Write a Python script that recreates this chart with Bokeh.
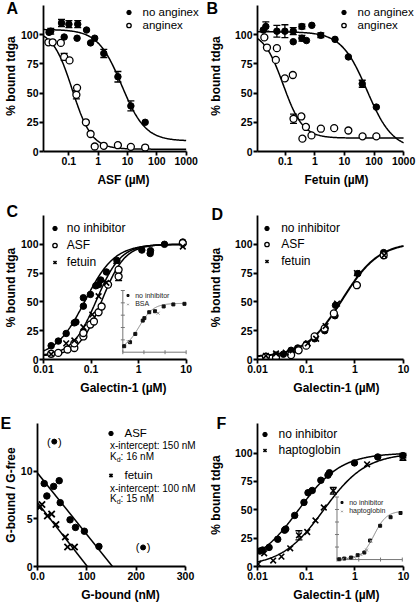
import numpy as np
from bokeh.plotting import figure
from bokeh.models import (Range1d, FixedTicker, Legend, LegendItem, Label, Title,
                          Whisker, TeeHead, ColumnDataSource, LogScale)
from bokeh.layouts import column, row
from bokeh.embed import file_html
from bokeh.resources import INLINE
from bokeh.core.properties import value

FONT = "Liberation Sans"

# ---------------- shared axes ----------------
pct_range = (0, 125)
pct_ticks = [0, 25, 50, 75, 100]
pct_labels = ["0", "25", "50", "75", "100"]
gal_range = (0.01, 10)
gal_ticks = [0.01, 0.1, 1, 10]
gal_labels = ["0.01", "0.1", "1", "10"]

# ---------------- Panel A (ASF) ----------------
a_range = (0.0136, 1000)
a_ticks = [0.1, 1, 10, 100, 1000]
a_labels = ["0.1", "1", "10", "100", "1000"]
a_noang_x = [0.021, 0.024, 0.056, 0.069, 0.10, 0.19, 0.20, 0.40, 0.55, 0.76, 1.55, 4.7, 13, 40]
a_noang_y = [102, 103, 110, 98, 109, 97, 109, 104, 93, 97, 84, 64, 39, 25]
a_noang_err = [0, 2.5, 3, 0, 3, 0, 3, 0, 0, 0, 3.5, 4.5, 4.3, 0]
a_ang_x = [0.020, 0.028, 0.053, 0.069, 0.105, 0.18, 0.19, 0.38, 0.55, 0.76, 1.55, 4.7, 13, 40]
a_ang_y = [93.5, 93.5, 93, 81, 78, 48.5, 54.5, 25, 15, 4.3, 4.9, 5.4, 4, 3.4]
a_ang_err = [0, 0, 0, 3, 0, 3.5, 0, 0, 0, 0, 0, 0, 0, 0]
a_noang_fit = [104.5, 9, 6.3, 1.07]      # start, end, midpoint, slope
a_ang_fit = [104, 2, 0.13, 1.3]

# ---------------- Panel B (Fetuin) ----------------
b_range = (0.0115, 1000)
b_noang_x = [0.018, 0.022, 0.052, 0.097, 0.186, 0.186, 0.365, 0.365, 0.52, 0.79, 1.59, 4.8, 13.6, 40, 120]
b_noang_y = [104, 107, 103, 103, 103, 94, 107, 97, 95, 108, 99.5, 96, 81, 58, 38]
b_noang_err = [0, 4, 5, 5.5, 3, 0, 2, 2.5, 0, 0, 2, 0, 0, 3, 0]
b_ang_x = [0.0196, 0.024, 0.048, 0.052, 0.097, 0.18, 0.19, 0.35, 0.38, 0.50, 0.77, 1.6, 4.5, 13.6, 41, 120]
b_ang_y = [97.7, 89, 78.4, 88.5, 62.6, 65.5, 28, 30, 11, 21, 13.8, 19.5, 20, 18, 13, 13]
b_ang_err = [0, 0, 0, 0, 0, 0, 4, 0, 0, 0, 0, 0, 0, 0, 0, 0]
b_noang_fit = [102.5, 2, 58, 1.0]
b_ang_fit = [103, 11.5, 0.085, 1.3]

# ---------------- Panel C ----------------
c_none_x = [0.0145, 0.0205, 0.030, 0.0445, 0.048, 0.069, 0.069, 0.097, 0.126, 0.144, 0.16, 0.21, 0.35, 1.17, 1.75, 1.78, 3.5, 8.5]
c_none_y = [12, 16, 22.6, 31.8, 32.5, 53.6, 46.3, 56.5, 64, 65, 69, 76, 86, 95, 92, 94.5, 100, 102]
c_asf_x = [0.0145, 0.0205, 0.032, 0.0445, 0.0445, 0.069, 0.069, 0.097, 0.115, 0.144, 0.167, 0.228, 0.38, 0.38, 8.5]
c_asf_y = [5, 5.7, 8.7, 10, 14, 20, 23, 30.4, 33, 41, 46, 65, 78, 72, 101]
c_asf_err = [0, 0, 0, 0, 0, 0, 0, 0, 0, 0, 0, 0, 0, 3.5, 0]
c_fet_x = [0.0145, 0.030, 0.0445, 0.069, 0.106, 0.144, 0.21, 0.34, 8.5]
c_fet_y = [4.6, 14, 16.5, 28, 39, 55, 66.6, 85.5, 98]
c_none_fit = [2, 100, 0.075, 1.4]
c_asf_fit = [3, 100, 0.17, 1.8]
c_fet_fit = [3, 100, 0.13, 1.7]
# inset of C
ci_none_x = [0.0116, 0.022, 0.039, 0.088, 0.105, 0.178, 0.335, 0.86, 2.47, 8.3]
ci_none_y = [12.2, 20.3, 37, 64, 69, 81, 83, 92.7, 96.8, 98]
ci_bsa_x = [0.018, 0.47]
ci_bsa_y = [21.5, 79]
ci_fit = [5, 99, 0.06, 1.3]

# ---------------- Panel D ----------------
d_none_x = [0.0149, 0.024, 0.034, 0.049, 0.067, 0.10, 0.149, 0.24, 0.39, 0.40, 1.15, 3.9]
d_none_y = [2.9, 3.8, 4.6, 8, 10, 13.3, 18, 25, 38, 47, 74.6, 92.8]
d_asf_x = [0.0149, 0.024, 0.049, 0.07, 0.10, 0.149, 0.24, 0.37, 1.1, 3.9]
d_asf_y = [2.3, 1.7, 3.8, 8, 12, 20, 27, 40, 64.5, 90.5]
d_fet_x = [0.0149, 0.024, 0.038, 0.053, 0.108, 0.16, 0.25, 0.43, 1.1, 4.0]
d_fet_y = [3.2, 5.2, 6, 8, 14, 18, 29, 48.5, 75, 90.5]
d_fit = [2, 102, 0.55, 1.15]

# ---------------- Panel E (Scatchard) ----------------
e_xrange = (0, 300)
e_yrange = (0, 15)
e_xticks = [0, 100, 200, 300]
e_xlabels = ["0.0", "100", "200", "300"]
e_yticks = [0, 5, 10]
e_ylabels = ["0", "5", "10"]
e_asf_x = [13.6, 19, 32.7, 44, 46, 66, 77, 95, 124.5]
e_asf_y = [8.7, 7.4, 8.4, 9.0, 6.7, 4.9, 4.1, 3.7, 2.1]
e_out_x = [34, 214]
e_out_y = [13.1, 2.0]
e_fet_x = [4, 9, 20, 28.6, 37.4, 56.5, 61, 75]
e_fet_y = [6.2, 6.5, 5.3, 5.5, 4.4, 3.1, 2.05, 2.05]
e_asf_line_x = [0, 152]
e_asf_line_y = [9.8, 0]
e_fet_line_x = [0, 101]
e_fet_line_y = [6.7, 0]
e_asf_xint = "x-intercept: 150 nM"
e_asf_kd = ": 16 nM"
e_fet_xint = "x-intercept: 100 nM"
e_fet_kd = ": 15 nM"

# ---------------- Panel F ----------------
f_yrange = (0, 126)
f_none_x = [0.0112, 0.0127, 0.0173, 0.026, 0.036, 0.038, 0.058, 0.09, 0.109, 0.133, 0.2, 0.28, 0.30, 0.98, 2.95, 9.7]
f_none_y = [13.6, 14.5, 16.8, 24, 32, 33, 45, 56.5, 65, 67, 76, 80.5, 82.6, 91.3, 96.5, 97.7]
f_none_err = [0, 0, 0, 0, 0, 0, 0, 0, 0, 0, 0, 0, 0, 0, 0, 2]
f_hap_x = [0.0103, 0.0137, 0.021, 0.031, 0.047, 0.071, 0.105, 0.155, 0.23, 0.36, 1.78, 9.7]
f_hap_y = [2.3, 11.6, 5.2, 8.7, 16, 27.5, 30.4, 40.6, 52, 66.7, 90, 96]
f_hap_err = [0, 0, 0, 0, 0, 4, 0, 0, 0, 3, 0, 2.5]
f_none_fit = [0, 100, 0.07, 1.0]
f_hap_fit = [0, 100, 0.23, 1.0]
# inset of F
fi_none_x = [0.0127, 0.0215, 0.044, 0.089, 0.18, 0.33, 0.96, 2.9, 8.3]
fi_none_y = [0.6, 2, 4, 8.7, 14, 38, 67.5, 84.6, 93]
fi_hap_x = [0.018, 0.031, 0.062, 0.125, 0.23, 0.36]
fi_hap_y = [0.6, 2, 4.7, 10, 19, 37]
fi_fit = [0, 97, 0.5, 1.5]

inset_xr = (0.01, 10)
inset_yr = (0, 125)
inset_xticks = [0.01, 0.1, 1, 10]
inset_yticks = [25, 50, 75, 100, 125]

# ---------------- layout (pixels) ----------------
COL_W = [205, 211]
COL_BL = [37, 51]
COL_BR = [2, 1]
AXIS_W = [148, 147]          # length of the x axis inside the (wider) frame
ROW_H = [200, 200, 204]
ROW_BT = [0, 15, 23]
ROW_BB = [49, 41, 37]
ROW_AXTOP = [5, 0, 0]        # gap between frame top and top of y axis
XLAB_STANDOFF = [5, 5, 5]
YLAB_STANDOFF = [0, 9]


def fit_curve(fit, xr, n=200):
    start, end, mid, slope = fit
    xs = np.logspace(np.log10(xr[0]), np.log10(xr[1]), n)
    r = (xs / mid) ** slope
    return xs, start + (end - start) * r / (1 + r)


class Panel:
    pass


def panel(col, r, xr, xlog, xticks, xlabels, yr, yticks, ylabels, xlabel, ylabel):
    P = Panel()
    bl, br = COL_BL[col], COL_BR[col]
    fw = COL_W[col] - bl - br
    fh = ROW_H[r] - ROW_BT[r] - ROW_BB[r]
    aw = AXIS_W[col]
    axtop = ROW_AXTOP[r]
    ah = fh - axtop
    if xlog:
        L0, L1 = np.log10(xr[0]), np.log10(xr[1])
        xend = 10 ** (L1 + (fw - aw) * (L1 - L0) / aw)
    else:
        xend = xr[1] + (fw - aw) * (xr[1] - xr[0]) / aw
    yend = yr[1] + axtop * (yr[1] - yr[0]) / ah
    p = figure(width=COL_W[col], height=ROW_H[r], x_range=Range1d(xr[0], xend),
               y_range=Range1d(yr[0], yend),
               x_axis_type="log" if xlog else "linear", output_backend="svg",
               toolbar_location=None, title=None,
               min_border_left=bl, min_border_right=br,
               min_border_top=ROW_BT[r], min_border_bottom=ROW_BB[r])
    p.outline_line_color = None
    p.xgrid.visible = False
    p.ygrid.visible = False
    p.xaxis.axis_label = xlabel
    p.yaxis.axis_label = ylabel
    for ax in (p.xaxis[0], p.yaxis[0]):
        ax.axis_line_width = 1.8
        ax.axis_line_color = "black"
        ax.major_tick_line_width = 1.8
        ax.major_tick_line_color = "black"
        ax.major_tick_out = 4
        ax.major_tick_in = 0
        ax.minor_tick_line_color = None
        ax.major_label_text_font = FONT
        ax.major_label_text_font_style = "bold"
        ax.major_label_text_font_size = "10.5px"
        ax.major_label_text_color = "black"
        ax.major_label_standoff = 1
        ax.axis_label_text_font = FONT
        ax.axis_label_text_font_style = "bold"
        ax.axis_label_text_font_size = "12px"
        ax.axis_label_text_color = "black"
    p.xaxis[0].axis_label_standoff = XLAB_STANDOFF[r]
    p.yaxis[0].axis_label_standoff = YLAB_STANDOFF[col]
    p.xaxis[0].bounds = (xr[0], xr[1])
    p.yaxis[0].bounds = (yr[0], yr[1])
    p.xaxis[0].ticker = FixedTicker(ticks=xticks, minor_ticks=[])
    p.xaxis[0].major_label_overrides = dict(zip(xticks, xlabels))
    p.yaxis[0].ticker = FixedTicker(ticks=yticks, minor_ticks=[])
    p.yaxis[0].major_label_overrides = dict(zip(yticks, ylabels))
    P.p, P.fw, P.fh, P.aw, P.ah, P.axtop = p, fw, fh, aw, ah, axtop
    return P


def filled(p, x, y, size=6.5, **kw):
    return p.scatter(x, y, marker="circle", size=size, fill_color="black", line_color="black", **kw)


def opened(p, x, y):
    return p.scatter(x, y, marker="circle", size=7, fill_color="white", line_color="black", line_width=1.3)


def crosses(p, x, y, size=8, lw=1.6):
    return p.scatter(x, y, marker="x", size=size, line_color="black", line_width=lw)


def errbars(p, x, y, e):
    sel = [(xi, yi, ei) for xi, yi, ei in zip(x, y, e) if ei > 0]
    if not sel:
        return
    src = ColumnDataSource(dict(base=[s[0] for s in sel],
                                lower=[s[1] - s[2] for s in sel],
                                upper=[s[1] + s[2] for s in sel]))
    w = Whisker(source=src, base="base", lower="lower", upper="upper", dimension="height",
                line_width=1.3, line_color="black",
                upper_head=TeeHead(size=7, line_width=1.3, line_color="black"),
                lower_head=TeeHead(size=7, line_width=1.3, line_color="black"))
    p.add_layout(w)


def curve(p, fit, xr, **kw):
    xs, ys = fit_curve(fit, xr)
    args = dict(line_color="black", line_width=1.5)
    args.update(kw)
    return p.line(xs, ys, **args)


def legend_row(P, label, rend, cx, cy, gw, gh, standoff, size, color="black"):
    """one legend entry; (cx, cy) = marker centre in px from the axis top-left corner"""
    top = P.axtop + cy - gh / 2
    loc = (cx - gw / 2, P.fh - top - gh)
    lg = Legend(items=[LegendItem(label=label, renderers=[rend])], location=loc,
                glyph_width=gw, glyph_height=gh, spacing=0, padding=0, margin=0,
                label_standoff=standoff, label_height=6, label_width=6,
                label_text_font=FONT, label_text_font_size=size, label_text_color=color,
                label_text_baseline="middle",
                border_line_color=None, background_fill_alpha=0)
    P.p.add_layout(lg)


def letter(P, txt, offset, standoff):
    P.p.add_layout(Title(text=txt, align="left", vertical_align="bottom", offset=offset,
                         standoff=standoff, text_font=FONT, text_font_size="16px",
                         text_font_style="bold", text_color="black"), "above")


def inset(P, px0, px1, py_top, py_bot, none_x, none_y, other_x, other_y, fit, labels, leg_cx, leg_cy):
    p = P.p
    lo, hi = np.log10(inset_xr[0]), np.log10(inset_xr[1])
    per = (hi - lo) / (px1 - px0)
    p.extra_x_ranges = {"in": Range1d(10 ** (lo - px0 * per), 10 ** (hi + (P.fw - px1) * per))}
    p.extra_x_scales = {"in": LogScale()}
    top = P.axtop + py_top
    bot = P.axtop + py_bot
    yper = (inset_yr[1] - inset_yr[0]) / (bot - top)
    p.extra_y_ranges = {"in": Range1d(inset_yr[0] - (P.fh - bot) * yper, inset_yr[1] + top * yper)}
    kw = dict(x_range_name="in", y_range_name="in")
    p.segment(x0=[inset_xr[0], inset_xr[0]], y0=[inset_yr[0], inset_yr[0]],
              x1=[inset_xr[1], inset_xr[0]], y1=[inset_yr[0], inset_yr[1]],
              line_color="#777777", line_width=1, **kw)
    p.scatter(inset_xticks, [inset_yr[0]] * len(inset_xticks), marker="dash", angle=np.pi / 2,
              size=4, line_color="#777777", line_width=1, **kw)
    p.scatter([inset_xr[0]] * len(inset_yticks), inset_yticks, marker="dash",
              size=4, line_color="#777777", line_width=1, **kw)
    xs, ys = fit_curve(fit, inset_xr)
    p.line(xs, ys, line_color="#808080", line_width=1, **kw)
    r1 = p.scatter(none_x, none_y, marker="square", size=3, fill_color="#111111", line_color="#111111", **kw)
    r2 = p.scatter(other_x, other_y, marker="x", size=4, line_color="#8a8a8a", line_width=1, **kw)
    legend_row(P, labels[0], r1, leg_cx, leg_cy, 5, 8, 5, "7px", "#222222")
    legend_row(P, labels[1], r2, leg_cx, leg_cy + 8.7, 5, 8, 5, "7px", "#222222")


GW, GH = 11, 16

# ================= Panel A =================
A = panel(0, 0, a_range, True, a_ticks, a_labels, pct_range, pct_ticks, pct_labels,
          "ASF (\u00b5M)", "% bound tdga")
pA = A.p
curve(pA, a_noang_fit, a_range)
curve(pA, a_ang_fit, a_range)
errbars(pA, a_noang_x, a_noang_y, a_noang_err)
errbars(pA, a_ang_x, a_ang_y, a_ang_err)
rA1 = filled(pA, a_noang_x, a_noang_y)
rA2 = opened(pA, a_ang_x, a_ang_y)
legend_row(A, "no anginex", rA1, 85, 7, GW, GH, 9, "11.5px")
legend_row(A, "anginex", rA2, 85, 19.7, GW, GH, 9, "11.5px")
letter(A, "A", -37, -32)

# ================= Panel B =================
B = panel(1, 0, b_range, True, a_ticks, a_labels, pct_range, pct_ticks, pct_labels,
          "Fetuin (\u00b5M)", "% bound tdga")
pB = B.p
curve(pB, b_noang_fit, b_range)
curve(pB, b_ang_fit, b_range)
errbars(pB, b_noang_x, b_noang_y, b_noang_err)
errbars(pB, b_ang_x, b_ang_y, b_ang_err)
rB1 = filled(pB, b_noang_x, b_noang_y)
rB2 = opened(pB, b_ang_x, b_ang_y)
legend_row(B, "no anginex", rB1, 86, 7, GW, GH, 9, "11.5px")
legend_row(B, "anginex", rB2, 86, 19.7, GW, GH, 9, "11.5px")
letter(B, "B", -51, -32)

# ================= Panel C =================
C = panel(0, 1, gal_range, True, gal_ticks, gal_labels, pct_range, pct_ticks, pct_labels,
          "Galectin-1 (\u00b5M)", "% bound tdga")
pC = C.p
curve(pC, c_none_fit, gal_range)
curve(pC, c_asf_fit, gal_range)
curve(pC, c_fet_fit, gal_range)
errbars(pC, c_asf_x, c_asf_y, c_asf_err)
rC1 = filled(pC, c_none_x, c_none_y)
rC2 = opened(pC, c_asf_x, c_asf_y)
rC3 = crosses(pC, c_fet_x, c_fet_y)
legend_row(C, "no inhibitor", rC1, 11.3, 13.3, GW, GH, 7, "12px")
legend_row(C, "ASF", rC2, 11.3, 30, GW, GH, 7, "12px")
legend_row(C, "fetuin", rC3, 11.3, 46.7, GW, GH, 7, "12px")
inset(C, 82.3, 148, 75, 136.7, ci_none_x, ci_none_y, ci_bsa_x, ci_bsa_y, ci_fit,
      ["no inhibitor", "BSA"], 84.7, 80)
letter(C, "C", -37, -8)

# ================= Panel D =================
D = panel(1, 1, gal_range, True, gal_ticks, gal_labels, pct_range, pct_ticks, pct_labels,
          "Galectin-1 (\u00b5M)", "% bound tdga")
pD = D.p
curve(pD, d_fit, gal_range, line_width=2)
rD1 = filled(pD, d_none_x, d_none_y)
rD2 = opened(pD, d_asf_x, d_asf_y)
rD3 = crosses(pD, d_fet_x, d_fet_y)
legend_row(D, "no inhibitor", rD1, 9.7, 13.3, GW, GH, 9, "12px")
legend_row(D, "ASF", rD2, 9.7, 29, GW, GH, 9, "12px")
legend_row(D, "fetuin", rD3, 9.7, 45.7, GW, GH, 9, "12px")
letter(D, "D", -46, -15)

# ================= Panel E =================
E = panel(0, 2, e_xrange, False, e_xticks, e_xlabels, e_yrange, e_yticks, e_ylabels,
          "G-bound (nM)", "G-bound / G-free")
pE = E.p
pE.line(e_asf_line_x, e_asf_line_y, line_color="black", line_width=1.5)
pE.line(e_fet_line_x, e_fet_line_y, line_color="black", line_width=1.5)
rE1 = filled(pE, e_asf_x, e_asf_y)
filled(pE, e_out_x, e_out_y, size=5)
for txt, off in (("(", -5.5), (")", 5.5)):
    pE.text(e_out_x, e_out_y, text=value(txt), x_offset=off, text_align="center",
            text_baseline="middle", text_font=value(FONT), text_font_size="11px", text_color="black")
rE2 = crosses(pE, e_fet_x, e_fet_y, size=9, lw=1.8)
legend_row(E, "ASF", rE1, 73, 11, GW, GH, 9, "11.5px")
legend_row(E, "fetuin", rE2, 73, 52.7, GW, GH, 9, "11.5px")
note_x = 147
for (xint, kd, y1, y2) in ((e_asf_xint, e_asf_kd, 12.74, 11.54), (e_fet_xint, e_fet_kd, 8.22, 7.09)):
    common = dict(text_font=FONT, text_baseline="middle", text_align="left", text_color="black")
    pE.add_layout(Label(x=note_x, y=y1, text=xint, text_font_size="10px", **common))
    pE.add_layout(Label(x=note_x, y=y2, text="K", text_font_size="10px", **common))
    pE.add_layout(Label(x=note_x, y=y2, x_offset=6.7, y_offset=-3, text="d", text_font_size="7px", **common))
    pE.add_layout(Label(x=note_x, y=y2, x_offset=10.6, text=kd, text_font_size="10px", **common))
letter(E, "E", -37, -17)

# ================= Panel F =================
F = panel(1, 2, gal_range, True, gal_ticks, gal_labels, f_yrange, pct_ticks, pct_labels,
          "Galectin-1 (\u00b5M)", "% bound tdga")
pF = F.p
curve(pF, f_none_fit, gal_range)
curve(pF, f_hap_fit, gal_range)
errbars(pF, f_none_x, f_none_y, f_none_err)
errbars(pF, f_hap_x, f_hap_y, f_hap_err)
rF1 = filled(pF, f_none_x, f_none_y)
rF2 = crosses(pF, f_hap_x, f_hap_y)
legend_row(F, "no inhibitor", rF1, 7, 11.5, GW, GH, 9, "12px")
legend_row(F, "haptoglobin", rF2, 7, 27.8, GW, GH, 9, "12px")
inset(F, 80, 145.7, 74, 137, fi_none_x, fi_none_y, fi_hap_x, fi_hap_y, fi_fit,
      ["no inhibitor", "haptoglobin"], 84.7, 80)
letter(F, "F", -41, -17)

layout = column(row(pA, pB), row(pC, pD), row(pE, pF))
open("out.html", "w").write(file_html(layout, INLINE))
